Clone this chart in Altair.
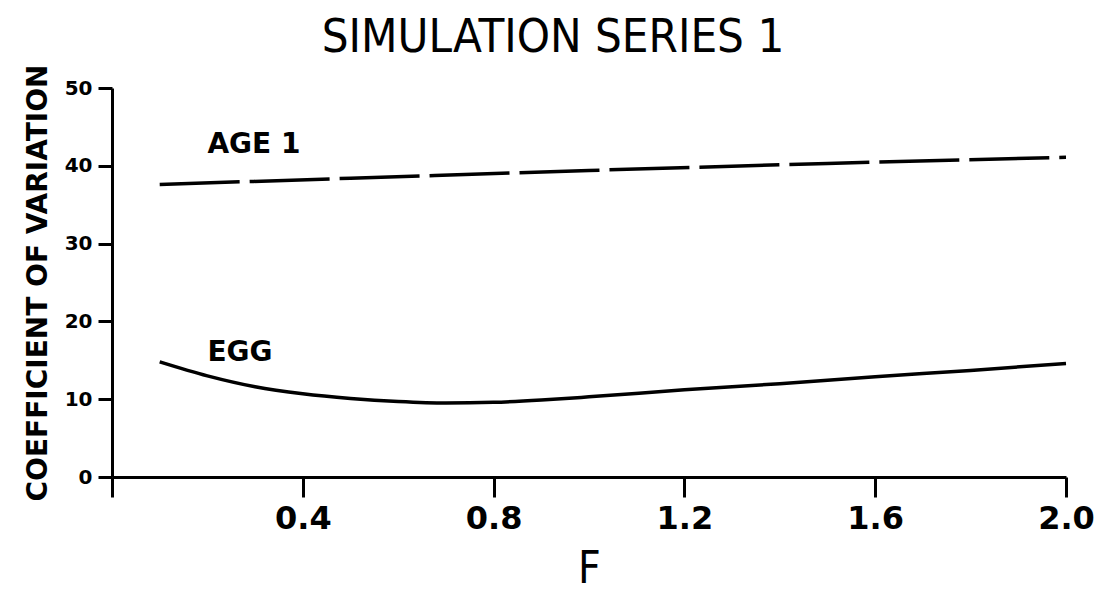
import altair as alt
import pandas as pd

# --- data ---
f_egg = [0.1, 0.2, 0.3, 0.4, 0.5, 0.6, 0.7, 0.8, 0.9, 1.0, 1.2, 1.4, 1.6, 1.8, 2.0]
cv_egg = [14.8, 13.0, 11.6, 10.7, 10.1, 9.7, 9.5, 9.6, 9.9, 10.3, 11.2, 12.0, 12.9, 13.7, 14.6]

f_age1 = [0.1, 0.5, 1.0, 1.5, 2.0]
cv_age1 = [37.6, 38.4, 39.4, 40.3, 41.1]

label_text = ["AGE 1", "EGG"]
label_f = [0.2, 0.2]
label_cv = [42.7, 15.9]

x_ticks = [0.0, 0.4, 0.8, 1.2, 1.6, 2.0]
y_ticks = [0, 10, 20, 30, 40, 50]

egg = pd.DataFrame({"F": f_egg, "CV": cv_egg})
age = pd.DataFrame({"F": f_age1, "CV": cv_age1})
labels = pd.DataFrame({"F": label_f, "CV": label_cv, "text": label_text})

FONT = "DejaVu Sans"
NARROW = "'DejaVu Sans Condensed', 'Liberation Sans Narrow', 'DejaVu Sans', sans-serif"

xscale = alt.Scale(domain=[0, 2.0], nice=False, zero=False)
yscale = alt.Scale(domain=[0, 50], nice=False)

xenc = alt.X(
    "F:Q",
    scale=xscale,
    title="F",
    axis=alt.Axis(
        values=x_ticks,
        format=".1f",
        labelExpr="datum.value == 0 ? '' : datum.label",
        tickSize=20,
        tickWidth=3,
        domainWidth=3,
        domainColor="black",
        tickColor="black",
        labelFont=FONT,
        labelFontWeight="bold",
        labelFontSize=32,
        labelColor="black",
        labelPadding=6,
        labelFlush=False,
        grid=False,
        titleFont=NARROW,
        titleFontWeight="normal",
        titleFontSize=44,
        titleColor="black",
        titlePadding=13,
    ),
)
yenc = alt.Y(
    "CV:Q",
    scale=yscale,
    title="COEFFICIENT OF VARIATION",
    axis=alt.Axis(
        values=y_ticks,
        tickSize=14,
        tickWidth=3,
        domainWidth=3,
        domainColor="black",
        tickColor="black",
        labelFont=FONT,
        labelFontWeight="bold",
        labelFontSize=20,
        labelColor="black",
        labelPadding=6,
        grid=False,
        titleFont=FONT,
        titleFontWeight="bold",
        titleFontSize=28,
        titleColor="black",
        titlePadding=12,
    ),
)

egg_line = alt.Chart(egg).mark_line(
    color="black", strokeWidth=3.5, interpolate="monotone"
).encode(x=xenc, y=yenc)

age_line = alt.Chart(age).mark_line(
    color="black", strokeWidth=3.5, strokeDash=[80, 10], interpolate="monotone"
).encode(x="F:Q", y="CV:Q")

text = alt.Chart(labels).mark_text(
    align="left", baseline="middle", font=FONT, fontWeight="bold",
    fontSize=28, color="black"
).encode(x="F:Q", y="CV:Q", text="text:N")

chart = (
    alt.layer(egg_line, age_line, text)
    .properties(
        width=954,
        height=389,
        autosize=alt.AutoSizeParams(type="none"),
        padding={"left": 112, "top": 88, "right": 41, "bottom": 116},
        view=alt.ViewBackground(stroke=None, strokeWidth=0),
        title=alt.TitleParams(
            "SIMULATION SERIES 1",
            font=NARROW,
            fontSize=47,
            fontWeight="normal",
            color="black",
            anchor="middle",
            dx=-36,
            offset=2,
        ),
    )
    .configure_view(stroke=None, strokeWidth=0)
    .configure(background="white")
)

chart.save("out.html", embed_options={"renderer": "svg", "actions": False})
